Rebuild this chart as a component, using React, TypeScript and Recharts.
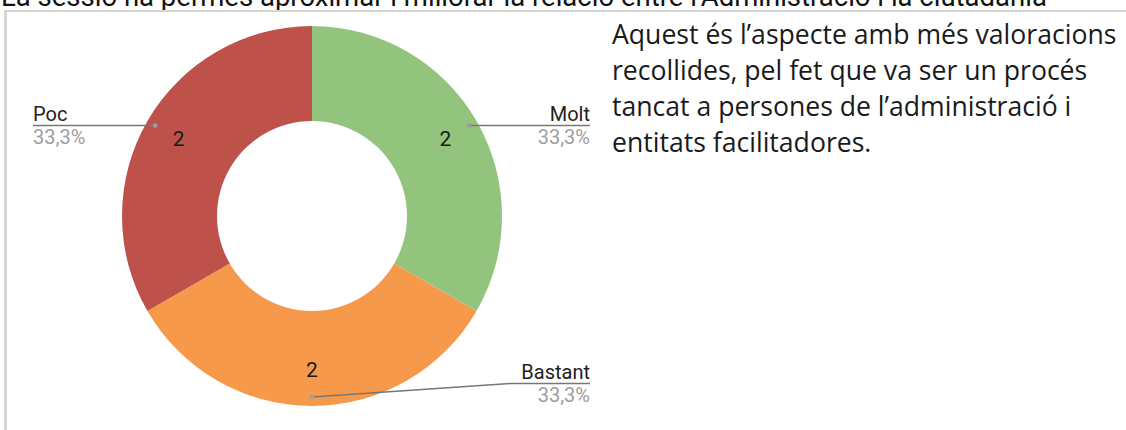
import { Cell, Pie, PieChart } from 'recharts';

const categories = ['Molt', 'Bastant', 'Poc'];
const counts = [2, 2, 2];
const colors = ['#93c47d', '#f6994a', '#be524b'];

const title =
  'La sessió ha permès aproximar i millorar la relació entre l’Administració i la ciutadania';
const noteLines = [
  'Aquest és l’aspecte amb més valoracions',
  'recollides, pel fet que va ser un procés',
  'tancat a persones de l’administració i',
  'entitats facilitadores.',
];

const data = categories.map((name, i) => ({ name, value: counts[i], color: colors[i] }));

const RADIAN = Math.PI / 180;
const LEFT_EDGE = 33;
const RIGHT_EDGE = 590;

function fmtPct(p: number) {
  return (p * 100).toFixed(1).replace('.', ',') + '%';
}

function renderLabel(props: any) {
  const { cx, cy, midAngle, outerRadius, value, name, percent } = props;
  const cos = Math.cos(-midAngle * RADIAN);
  const sin = Math.sin(-midAngle * RADIAN);
  // value inside the ring
  const vr = outerRadius - 36;
  const vx = cx + vr * cos;
  const vy = cy + vr * sin;
  // leader dot
  const dr = outerRadius - 9;
  const dx = cx + dr * cos;
  const dy = cy + dr * sin;

  let points: string;
  let lineY: number;
  let textX: number;
  let anchor: 'start' | 'end';
  if (cos < -0.2) {
    lineY = dy;
    points = `${dx},${dy} ${LEFT_EDGE},${dy}`;
    textX = LEFT_EDGE;
    anchor = 'start';
  } else if (cos > 0.2) {
    lineY = dy;
    points = `${dx},${dy} ${RIGHT_EDGE},${dy}`;
    textX = RIGHT_EDGE;
    anchor = 'end';
  } else {
    lineY = dy - 13.5;
    points = `${dx},${dy} ${RIGHT_EDGE - 80},${lineY} ${RIGHT_EDGE},${lineY}`;
    textX = RIGHT_EDGE;
    anchor = 'end';
  }

  return (
    <g>
      <text
        x={vx}
        y={vy}
        textAnchor="middle"
        dominantBaseline="central"
        fill="#1a1a1a"
        fontSize={21}
        fontFamily="Roboto"
      >
        {value}
      </text>
      <polyline points={points} fill="none" stroke="#777" strokeWidth={1.3} />
      <circle cx={dx} cy={dy} r={2.3} fill="#9e9e9e" />
      <text x={textX} y={lineY - 5} textAnchor={anchor} fill="#222" fontSize={20} fontFamily="Roboto">
        {name}
      </text>
      <text x={textX} y={lineY + 18.5} textAnchor={anchor} fill="#9e9e9e" fontSize={20} fontFamily="Roboto">
        {fmtPct(percent)}
      </text>
    </g>
  );
}

export default function App() {
  return (
    <div
      style={{
        position: 'fixed',
        left: 0,
        top: 0,
        width: 1126,
        height: 430,
        overflow: 'hidden',
        background: '#fff',
      }}
    >
      <svg
        width={1126}
        height={12}
        style={{ position: 'absolute', left: 0, top: 0 }}
      >
        <text x={1} y={6} fontFamily="Roboto" fontSize={27.5} fill="#111">
          {title}
        </text>
      </svg>
      <div
        style={{
          position: 'absolute',
          left: 4,
          top: 10,
          width: 1130,
          height: 440,
          borderTop: '2px solid #d4d4d4',
          borderLeft: '3px solid #d4d4d4',
          boxSizing: 'border-box',
        }}
      />
      <div style={{ position: 'absolute', left: 0, top: 0 }}>
        <PieChart width={600} height={430} margin={{ top: 0, right: 0, bottom: 0, left: 0 }}>
          <Pie
            data={data}
            dataKey="value"
            nameKey="name"
            cx={312}
            cy={216}
            innerRadius={95}
            outerRadius={190}
            startAngle={90}
            endAngle={-270}
            stroke="none"
            labelLine={false}
            label={renderLabel}
            isAnimationActive={false}
          >
            {data.map((d) => (
              <Cell key={d.name} fill={d.color} />
            ))}
          </Pie>
        </PieChart>
      </div>
      <div
        style={{
          position: 'absolute',
          left: 612,
          top: 16,
          fontFamily: '"Open Sans"',
          fontSize: 26.6,
          lineHeight: '36px',
          color: '#1a1a1a',
          whiteSpace: 'nowrap',
        }}
      >
        {noteLines.map((l) => (
          <div key={l}>{l}</div>
        ))}
      </div>
    </div>
  );
}
